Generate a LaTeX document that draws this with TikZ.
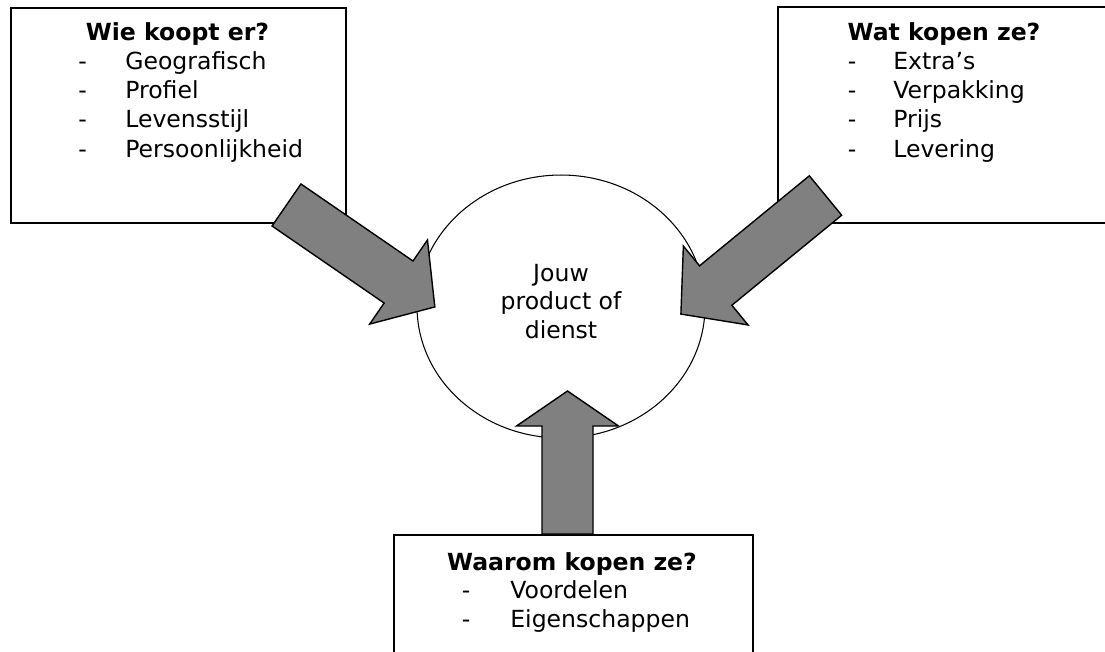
\documentclass[tikz,border=0pt]{standalone}
\usepackage{fontspec}
\setmainfont{DejaVu Sans}
\usetikzlibrary{shapes.geometric}

\tikzset{
  infobox/.style={draw, line width=1pt, anchor=north west, inner sep=0pt},
  productcircle/.style={draw, ellipse, line width=0.6pt, inner sep=0pt,
    minimum width=5.76cm, minimum height=5.26cm},
  arrowfill/.style={draw, fill=gray, line width=0.8pt, line join=miter},
  pics/blockarrow/.style 2 args={code={
    \path[arrowfill] (0,-25.5) -- ({#1-#2},-25.5) -- ({#1-#2},-51) -- (#1,0)
      -- ({#1-#2},51) -- ({#1-#2},25.5) -- (0,25.5) -- cycle;
  }},
  titletext/.style={anchor=base, inner sep=0pt, font=\fontsize{13.4}{16}\selectfont\bfseries},
  listtext/.style={anchor=base west, inner sep=0pt},
  dashmark/.style={anchor=base, inner sep=0pt}
}

\begin{document}
\begin{tikzpicture}[x=0.02cm, y=-0.02cm, every node/.style={font=\fontsize{13.4}{16}\selectfont}]
  \useasboundingbox (0,0) rectangle (1105,652);
  \clip (0,0) rectangle (1105,652);

  % the three question boxes
  \node[infobox, minimum width=6.7cm, minimum height=4.3cm] (wie) at (10,7) {};
  \node[infobox, minimum width=6.8cm, minimum height=4.32cm] (wat) at (777,6) {};
  \node[infobox, minimum width=7.18cm, minimum height=2.6cm] (waarom) at (393,534) {};

  \node[titletext] (wie-title) at (177.5,41) {Wie koopt er?};
  \foreach \entry [count=\i] in {Geografisch, Profiel, Levensstijl, Persoonlijkheid} {
    \node[dashmark] (wie-dash-\i) at (82.5,{41+29*\i}) {-};
    \node[listtext] (wie-\i) at (125,{41+29*\i}) {\entry};
  }

  \node[titletext] (wat-title) at (944,41) {Wat kopen ze?};
  \foreach \entry [count=\i] in {Extra’s, Verpakking, Prijs, Levering} {
    \node[dashmark] (wat-dash-\i) at (852,{41+29*\i}) {-};
    \node[listtext] (wat-\i) at (893,{41+29*\i}) {\entry};
  }

  \node[titletext] (waarom-title) at (572,570) {Waarom kopen ze?};
  \foreach \entry [count=\i] in {Voordelen, Eigenschappen} {
    \node[dashmark] (waarom-dash-\i) at (466,{570+28.5*\i}) {-};
    \node[listtext] (waarom-\i) at (510,{570+28.5*\i}) {\entry};
  }

  % product in the middle
  \node[productcircle] (product) at (561,306.5) {};
  \foreach \line [count=\i] in {Jouw, product of, dienst}
    \node[anchor=base, inner sep=0pt] (product-\i) at (561,{252.5+28.5*\i}) {\line};

  % block arrows into the product
  \coordinate (wie-tail) at (286.5,205);
  \coordinate (wat-tail) at (825.5,195.5);
  \coordinate (waarom-tail) at (567.5,534);
  \pic[rotate=-34.5] (wie-arrow) at (wie-tail) {blockarrow={180}{44}};
  \pic[rotate=-140.65] (wat-arrow) at (wat-tail) {blockarrow={187}{45}};
  \pic[rotate=90] (waarom-arrow) at (waarom-tail) {blockarrow={143}{35}};
\end{tikzpicture}
\end{document}
